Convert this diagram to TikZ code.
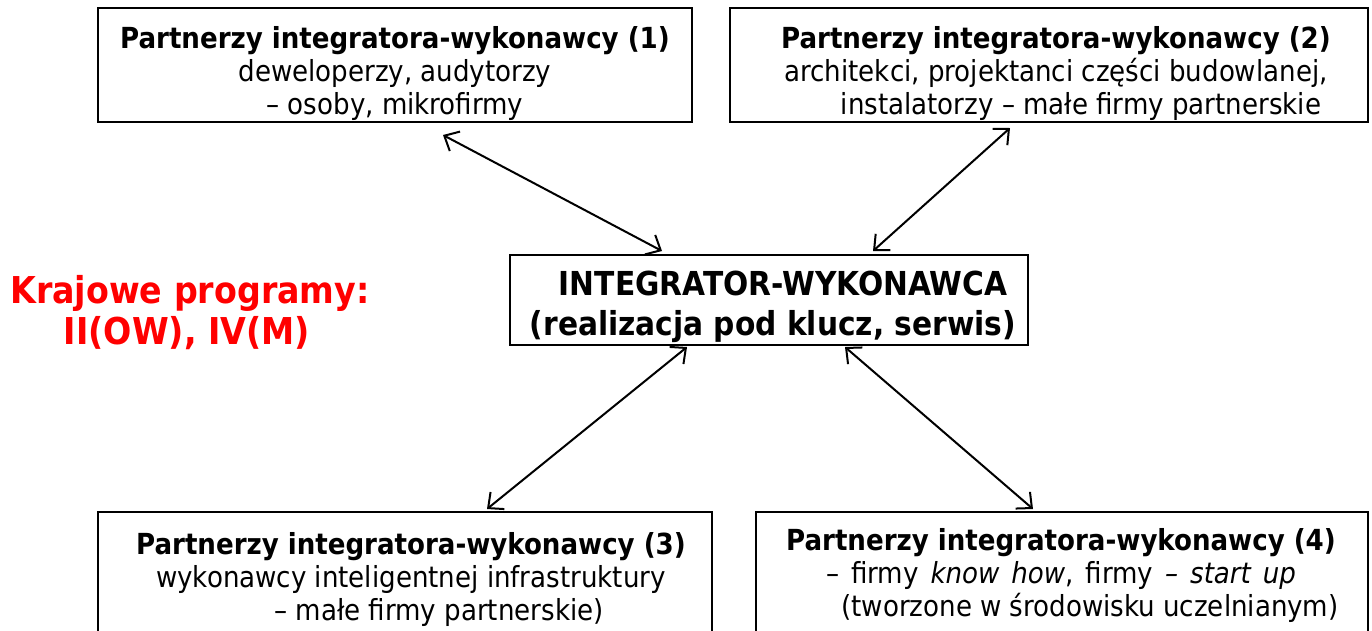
\documentclass[tikz,border=0pt]{standalone}
\usepackage{fontspec}
\setmainfont{DejaVu Sans Condensed}[
  BoldFont={DejaVu Sans Condensed Bold},
  ItalicFont={DejaVu Sans Condensed Oblique},
  BoldItalicFont={DejaVu Sans Condensed Bold Oblique}]
\usetikzlibrary{arrows.meta,calc}
\tikzset{
  box/.style={rectangle, draw, line width=2pt, inner sep=0pt},
  txt/.style={align=center, inner sep=0pt, font=\fontsize{29}{33}\selectfont},
  link/.style={{Straight Barb[length=12pt,width=22pt]}-{Straight Barb[length=12pt,width=22pt]}, line width=2pt},
}
\begin{document}
\begin{tikzpicture}[x=1pt,y=-1pt]
    \useasboundingbox (0,0) rectangle (1372,630);
    % Nodes
    \node (p1) [box, minimum width=594pt, minimum height=114pt] at (395,65) {};
    \node (p2) [box, minimum width=638pt, minimum height=114pt] at (1049,65) {};
    \node (iw) [box, minimum width=518pt, minimum height=90pt] at (769,300) {};
    \node (p3) [box, minimum width=614pt, minimum height=124pt] at (405,574) {};
    \node (p4) [box, minimum width=612pt, minimum height=124pt] at (1062,574) {};

    \node (p1t) [txt] at (395,73) {\textbf{Partnerzy integratora-wykonawcy (1)}\\deweloperzy, audytorzy\\– osoby, mikrofirmy};
    \node (p2t) [txt] at (1056,73) {\textbf{Partnerzy integratora-wykonawcy (2)}\\architekci, projektanci części budowlanej,\\\hspace*{50pt}instalatorzy – małe firmy partnerskie};
    \node (iwt) [txt, font=\fontsize{33}{40}\selectfont\bfseries] at (773,307) {\hspace*{20pt}INTEGRATOR-WYKONAWCA\\(realizacja pod klucz, serwis)};
    \node (p3t) [txt] at (411,579) {\textbf{Partnerzy integratora-wykonawcy (3)}\\wykonawcy inteligentnej infrastruktury\\\hspace*{56pt}– małe firmy partnerskie)};
    \node (p4t) [txt] at (1061,575) {\textbf{Partnerzy integratora-wykonawcy (4)}\\{\spaceskip=12pt – firmy \textit{know how}, firmy \textit{– start up}}\hspace*{48pt}\\\hspace*{58pt}(tworzone w środowisku uczelnianym)};

    \node (kp) [txt, font=\fontsize{37}{41}\selectfont\bfseries, text=red] at (190,313) {Krajowe programy:\\II(OW), IV(M)\hspace*{6pt}};

    % Edges
    \draw [link] ($(p1.south)+(48,12)$) -- ($(iw.north)+(-107,-3)$);
    \draw [link] ($(p2.south)+(-39,5)$) -- ($(iw.north)+(104,-3)$);
    \draw [link] ($(iw.south)+(-82,1)$) -- ($(p3.north)+(82,-2)$);
    \draw [link] ($(iw.south)+(76,1)$) -- ($(p4.north)+(-29,-2)$);
\end{tikzpicture}
\end{document}
